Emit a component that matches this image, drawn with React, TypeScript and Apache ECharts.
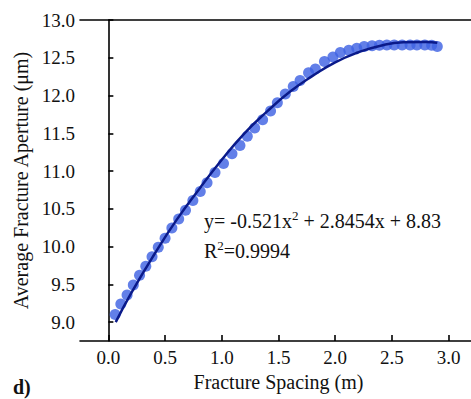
import React, { useEffect, useRef } from "react";
import * as echarts from "echarts";

const pointX = [0.06, 0.11, 0.165, 0.22, 0.275, 0.33, 0.385, 0.44, 0.5, 0.56, 0.62, 0.68, 0.745, 0.81, 0.87, 0.94, 1.015, 1.09, 1.16, 1.225, 1.29, 1.36, 1.43, 1.49, 1.56, 1.63, 1.69, 1.765, 1.825, 1.905, 1.98, 2.045, 2.12, 2.19, 2.255, 2.325, 2.39, 2.455, 2.52, 2.59, 2.66, 2.72, 2.79, 2.85, 2.9];
const pointY = [9.1, 9.24, 9.36, 9.49, 9.62, 9.74, 9.865, 9.99, 10.11, 10.245, 10.365, 10.48, 10.61, 10.73, 10.845, 10.98, 11.1, 11.23, 11.34, 11.46, 11.57, 11.68, 11.795, 11.905, 12.02, 12.12, 12.2, 12.3, 12.35, 12.45, 12.51, 12.57, 12.6, 12.625, 12.65, 12.66, 12.665, 12.67, 12.67, 12.67, 12.67, 12.67, 12.67, 12.665, 12.65];

const fitX = [0.065, 0.2, 0.4, 0.6, 0.8, 1.0, 1.2, 1.4, 1.6, 1.8, 2.0, 2.2, 2.4, 2.6, 2.8, 2.9];
const fitY = [9.0, 9.38, 9.885, 10.35, 10.76, 11.15, 11.5, 11.79, 12.05, 12.26, 12.44, 12.57, 12.66, 12.705, 12.71, 12.7];

const xTicks = [0.0, 0.5, 1.0, 1.5, 2.0, 2.5, 3.0];
const yTicks = [9.0, 9.5, 10.0, 10.5, 11.0, 11.5, 12.0, 12.5, 13.0];

const FONT = "'Liberation Serif', 'Times New Roman', serif";

export default function App() {
  const ref = useRef<HTMLDivElement>(null);
  useEffect(() => {
    if (!ref.current) return;
    const chart = echarts.init(ref.current, null, { renderer: "svg" });
    const axisLine = { show: true, lineStyle: { color: "#000", width: 1.6 } };
    const sup = { fontSize: 13, verticalAlign: "top", fontFamily: FONT, fill: "#111", padding: [0, 0, 11, 0] };
    chart.setOption({
      animation: false,
      backgroundColor: "#fff",
      textStyle: { fontFamily: FONT },
      grid: { left: 80, top: 20, right: 3, bottom: 58, containLabel: false },
      xAxis: [
        {
          type: "value",
          min: -0.25,
          max: 3.25,
          name: "Fracture Spacing (m)",
          nameLocation: "middle",
          nameGap: 30,
          nameTextStyle: { fontFamily: FONT, fontSize: 20, color: "#111" },
          axisLine,
          axisTick: { show: true, inside: true, length: 6, lineStyle: { color: "#000", width: 1.6 }, customValues: xTicks },
          axisLabel: {
            fontFamily: FONT,
            fontSize: 19,
            color: "#111",
            margin: 7,
            customValues: xTicks,
            formatter: (v: number) => v.toFixed(1),
          },
          splitLine: { show: false },
        },
        {
          type: "value",
          position: "top",
          min: -0.25,
          max: 3.25,
          axisLine,
          axisTick: { show: false },
          axisLabel: { show: false },
          splitLine: { show: false },
        },
      ],
      yAxis: {
        type: "value",
        min: 8.75,
        max: 13.0,
        name: "Average Fracture Aperture (μm)",
        nameLocation: "middle",
        nameGap: 47,
        nameTextStyle: { fontFamily: FONT, fontSize: 20, color: "#111" },
        axisLine,
        axisTick: { show: true, inside: true, length: 5, lineStyle: { color: "#000", width: 1.6 }, customValues: yTicks },
        axisLabel: {
          fontFamily: FONT,
          fontSize: 19,
          color: "#111",
          margin: 5,
          customValues: yTicks,
          formatter: (v: number) => v.toFixed(1),
        },
        splitLine: { show: false },
      },
      series: [
        {
          type: "scatter",
          data: pointX.map((x, i) => [x, pointY[i]]),
          symbol: "circle",
          symbolSize: 11,
          itemStyle: { color: "#3f63e3", opacity: 0.82 },
          z: 2,
        },
        {
          type: "line",
          data: fitX.map((x, i) => [x, fitY[i]]),
          smooth: true,
          showSymbol: false,
          symbol: "none",
          lineStyle: { color: "#0a1a8a", width: 2.5 },
          z: 3,
        },
      ],
      graphic: [
        {
          type: "text",
          left: 204,
          top: 209,
          style: {
            text: "y= -0.521x{s|2} + 2.8454x + 8.83",
            fontFamily: FONT,
            fontSize: 20,
            fill: "#111",
            rich: { s: sup },
          },
        },
        {
          type: "text",
          left: 204,
          top: 239,
          style: {
            text: "R{s|2}=0.9994",
            fontFamily: FONT,
            fontSize: 20,
            fill: "#111",
            rich: { s: sup },
          },
        },
        {
          type: "text",
          left: 13,
          top: 377,
          style: { text: "d)", fontFamily: FONT, fontSize: 20, fontWeight: "bold", fill: "#111" },
        },
      ],
    });
    return () => chart.dispose();
  }, []);
  return (
    <div
      ref={ref}
      style={{ position: "fixed", left: 0, top: 0, width: 480, height: 399, background: "#fff" }}
    />
  );
}
